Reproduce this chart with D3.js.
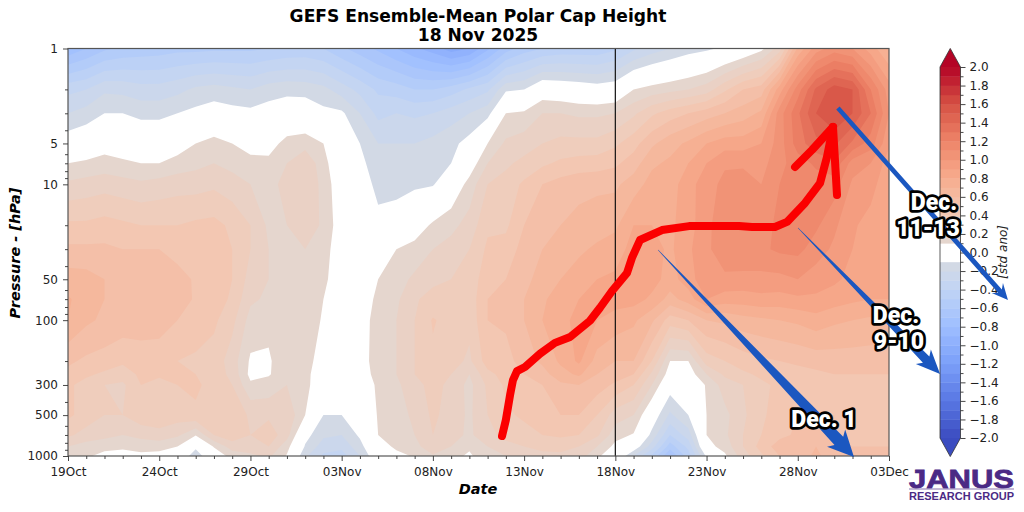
<!DOCTYPE html>
<html>
<head>
<meta charset="utf-8">
<script src="https://cdn.jsdelivr.net/npm/d3@7"></script>
<style>
  html, body { margin: 0; background: #fff; }
  text { font-family: "DejaVu Sans", sans-serif; }
</style>
</head>
<body>
<div id="chart"></div>
<script>
// values
const pressureLevels = [1, 2, 3, 5, 7, 10, 20, 30, 50, 70, 100, 200, 250, 300, 500, 700, 850, 1000];
const dayCount = 46;
const dateTicks = [0, 5, 10, 15, 20, 25, 30, 35, 40, 45];
const dateLabels = ['19Oct', '24Oct', '29Oct', '03Nov', '08Nov', '13Nov', '18Nov', '23Nov', '28Nov', '03Dec'];
const pressureTicks = [1, 5, 10, 50, 100, 300, 500, 1000];
const pressureMinor = [2, 3, 4, 6, 7, 8, 9, 20, 30, 40, 60, 70, 80, 90, 200, 400, 600, 700, 800, 900];
const barTicks = [2, 1.8, 1.6, 1.4, 1.2, 1, 0.8, 0.6, 0.4, 0.2, 0, -0.2, -0.4, -0.6, -0.8, -1, -1.2, -1.4, -1.6, -1.8, -2];
const forecastStart = 30;

// one list per day, top of the atmosphere first
const anomalyByDay = [
  [-.78, -.33, -.2, -.03, .1, .22, .42, .52, .65, .71, .7, .52, .47, .42, .42, .32, .2, .12],
  [-.7, -.3, -.16, 0, .12, .24, .42, .52, .64, .66, .62, .48, .42, .36, .36, .26, .16, .11],
  [-.62, -.22, -.1, .05, .14, .26, .44, .52, .6, .6, .58, .46, .38, .3, .3, .24, .12, .08],
  [-.58, -.23, -.1, .03, .12, .24, .42, .5, .58, .58, .56, .42, .35, .28, .3, .2, .12, .06],
  [-.56, -.26, -.13, .01, .1, .22, .4, .5, .57, .57, .56, .44, .42, .4, .36, .24, .13, .08],
  [-.55, -.26, -.13, .01, .1, .24, .4, .5, .55, .56, .55, .44, .41, .38, .36, .27, .13, .07],
  [-.53, -.23, -.1, .04, .14, .26, .4, .47, .53, .54, .5, .4, .4, .4, .35, .22, .1, .02],
  [-.53, -.18, -.07, .1, .17, .26, .42, .48, .49, .49, .47, .38, .4, .42, .38, .11, -.07, -.17],
  [-.52, -.16, -.04, .14, .2, .28, .43, .47, .47, .46, .42, .36, .36, .36, .36, .3, .11, .02],
  [-.52, -.18, -.06, .1, .17, .24, .38, .4, .4, .38, .33, .25, .27, .3, .38, .36, .25, .14],
  [-.52, -.2, -.07, .06, .13, .2, .3, .3, .26, .22, .16, .085, .07, .12, .28, .3, .25, .18],
  [-.5, -.15, -.05, .05, .13, .18, .18, .2, .2, .18, .12, .09, .09, .14, .28, .36, .3, .22],
  [-.48, -.13, -.03, .14, .2, .22, .2, .18, .17, .16, .17, .15, .17, .2, .28, .24, .14, .09],
  [-.47, -.14, -.02, .16, .28, .28, .3, .2, .18, .16, .15, .14, .13, .13, .1, -.06, -.11, -.18],
  [-.5, -.17, -.07, .1, .14, .17, .17, .15, .13, .1, .09, .05, .03, .02, -.1, -.18, -.25, -.32],
  [-.58, -.25, -.08, -.04, -.01, .01, .04, .02, .01, 0, 0, -.01, -.01, -.02, -.1, -.2, -.27, -.35],
  [-.65, -.33, -.2, -.1, -.07, -.04, 0, 0, 0, .02, .04, .05, .04, .02, -.03, -.08, -.14, -.2],
  [-.72, -.42, -.33, -.2, -.16, -.13, -.07, .06, .1, .13, .15, .15, .14, .12, .11, .1, .05, 0],
  [-.8, -.45, -.3, -.2, -.16, -.13, -.05, .1, .16, .18, .2, .2, .2, .18, .16, .15, .12, .07],
  [-.88, -.5, -.32, -.2, -.16, -.12, .03, .14, .22, .29, .3, .3, .3, .26, .22, .2, .15, .11],
  [-.95, -.5, -.3, -.17, -.14, -.11, .12, .2, .28, .33, .41, .38, .36, .34, .32, .3, .3, .18],
  [-1.05, -.45, -.25, -.13, -.1, 0, .17, .24, .3, .34, .36, .34, .3, .27, .26, .24, .2, .14],
  [-1, -.38, -.2, -.06, .03, .14, .24, .3, .33, .34, .33, .28, .2, .17, .18, .18, .12, .08],
  [-.82, -.32, -.14, .1, .2, .3, .38, .42, .47, .5, .5, .45, .37, .32, .3, .27, .2, .18],
  [-.65, -.12, .1, .22, .28, .34, .38, .44, .5, .52, .52, .46, .44, .42, .38, .33, .27, .2],
  [-.55, -.1, .12, .25, .33, .42, .5, .54, .57, .6, .6, .55, .5, .45, .42, .36, .3, .26],
  [-.5, .02, .2, .3, .38, .5, .56, .6, .64, .68, .7, .62, .56, .5, .46, .4, .32, .28],
  [-.47, 0, .2, .33, .42, .54, .6, .65, .7, .76, .78, .72, .66, .58, .5, .42, .33, .28],
  [-.47, -.02, .18, .33, .44, .57, .63, .68, .75, .8, .82, .82, .72, .6, .5, .4, .3, .25],
  [-.47, -.04, .18, .33, .45, .58, .65, .72, .8, .85, .8, .66, .6, .55, .4, .32, .2, .12],
  [-.42, -.02, .2, .38, .48, .58, .68, .75, .82, .84, .76, .6, .55, .48, .25, .14, .07, .02],
  [-.32, .1, .28, .46, .55, .65, .8, .84, .86, .84, .72, .6, .5, .4, .2, .09, -.02, -.2],
  [-.25, .14, .38, .58, .68, .74, .8, .84, .84, .78, .62, .4, .28, .2, -.02, -.13, -.25, -.42],
  [-.2, .17, .45, .66, .72, .76, .78, .78, .76, .66, .45, .1, .04, -.04, -.22, -.4, -.55, -.7],
  [-.15, .2, .5, .72, .8, .85, .85, .88, .85, .75, .5, .1, .04, 0, -.1, -.25, -.37, -.45],
  [-.12, .25, .55, .8, .9, .97, .98, .98, .98, .9, .6, .35, .2, .11, .1, .1, .06, -.08],
  [-.08, .38, .6, .85, .99, 1.02, 1.05, 1.06, .98, .85, .62, .4, .32, .25, .17, .18, .14, .08],
  [-.02, .5, .65, .85, .99, 1.03, 1.07, 1.08, .97, .85, .66, .45, .38, .3, .28, .3, .3, .25],
  [.07, .55, .72, .9, .96, 1, 1.05, 1.08, .97, .87, .68, .48, .42, .38, .38, .4, .44, .38],
  [.25, .85, 1.05, 1.05, 1.07, 1.1, 1.13, 1.12, .97, .86, .7, .5, .45, .42, .45, .47, .55, .5],
  [.72, 1.15, 1.28, 1.25, 1.15, 1.12, 1.15, 1.13, 1, .88, .72, .52, .46, .42, .5, .52, .58, .55],
  [.95, 1.42, 1.5, 1.37, 1.22, 1.15, 1.12, 1.05, .95, .88, .76, .54, .48, .44, .5, .55, .6, .62],
  [1.05, 1.55, 1.6, 1.42, 1.28, 1.15, 1.02, .98, .92, .85, .72, .55, .5, .46, .5, .5, .55, .55],
  [1, 1.5, 1.5, 1.28, 1.05, .98, .92, .9, .87, .82, .7, .55, .5, .46, .47, .45, .5, .5],
  [.85, 1.2, 1.3, 1.15, 1, .95, .85, .85, .85, .8, .68, .55, .5, .47, .45, .45, .5, .5],
  [.7, .95, 1, .92, .85, .8, .8, .82, .82, .8, .66, .55, .5, .47, .48, .48, .5, .5]
];

// the hand-drawn red track and its arrow head, in day / hPa
const trackDays = [23.79, 24.0, 24.23, 24.39, 24.61, 25.05, 25.87, 26.69, 27.52, 28.61, 29.16, 29.82, 30.64, 30.91, 31.35, 32.56, 34.04, 36.78, 37.49, 38.75, 39.41, 40.4, 41.22, 41.6, 41.93];
const trackHpa = [713, 543, 356, 276, 237, 221, 177, 147, 133, 101, 81, 61, 45, 34.8, 25.7, 21.7, 20.3, 20.3, 20.6, 20.6, 18.9, 13.7, 9.8, 6.3, 3.78];
const headLeftDays = [41.93, 40.78, 39.85];
const headLeftHpa = [3.78, 5.59, 7.45];
const headRightDays = [41.93, 42.15];
const headRightHpa = [3.78, 12.0];

// blue arrows: Dec. 1, Dec. 9-10, Dec. 11-13
const arrowNames = ['Dec. 1', 'Dec. 9-10', 'Dec. 11-13'];
const arrowTailDay = [32.34, 40.01, 42.2];
const arrowTailHpa = [30.4, 20.9, 2.74];
const arrowTipDay = [43.08, 47.8, 51.52];
const arrowTipHpa = [1016, 249, 71.1];

const coolwarm = ['#3b4cc0', '#5977e3', '#7b9ff9', '#9ebeff', '#c0d4f5', '#dddcdc', '#f2cbb7', '#f7ac8e', '#ee8468', '#d65244', '#b40426'];
const levels = d3.range(-20, 20).map(d => d / 10);

const chartWidth = 1024, chartHeight = 512;
const plotLeft = 68, plotRight = 889, plotTop = 48.5, plotBottom = 456;

const svg = d3.select('#chart').append('svg')
  .attr('width', chartWidth).attr('height', chartHeight)
  .attr('viewBox', [0, 0, chartWidth, chartHeight])
  .style('display', 'block');

const x = d3.scaleLinear().domain([0, 45]).range([plotLeft, plotRight]);
const y = d3.scaleLog().domain([1, 1000]).range([plotTop, plotBottom]);
// grid row number -> pixel, rows are not evenly spaced
const rowY = d3.scaleLinear().domain(d3.range(pressureLevels.length)).range(pressureLevels.map(y));
const ramp = d3.scaleLinear().domain(d3.range(coolwarm.length).map(d => d / 10)).range(coolwarm);

function bandColour(lo) {
  const key = Math.round(lo * 10);
  if (key === -1 || key === 0) return '#ffffff';
  return ramp((lo + 0.05 + 2) / 4);
}

svg.append('defs').append('clipPath').attr('id', 'plot')
  .append('rect').attr('x', plotLeft).attr('y', plotTop).attr('width', plotRight - plotLeft).attr('height', plotBottom - plotTop);

// Filled contours
const grid = [];
for (let j = 0; j < pressureLevels.length; j++) {
  for (let i = 0; i < dayCount; i++) grid.push(anomalyByDay[i][j]);
}
const contours = d3.contours().size([dayCount, pressureLevels.length]).thresholds(levels)(grid);
const toPixels = d3.geoTransform({
  point(cx, cy) { this.stream.point(x(cx - 0.5), rowY(cy - 0.5)); }
});
svg.append('g').attr('clip-path', 'url(#plot)')
  .selectAll('path').data(contours).enter().append('path')
  .attr('d', d3.geoPath(toPixels))
  .attr('fill', d => bandColour(d.value));

// 18 Nov marker
svg.append('line')
  .attr('x1', x(forecastStart)).attr('x2', x(forecastStart))
  .attr('y1', plotTop).attr('y2', plotBottom)
  .attr('stroke', '#111').attr('stroke-width', 1.2);

// Frame
svg.append('rect').attr('x', plotLeft).attr('y', plotTop).attr('width', plotRight - plotLeft).attr('height', plotBottom - plotTop)
  .attr('fill', 'none').attr('stroke', '#555').attr('stroke-width', 1.2);

// Axes
const xAxis = svg.append('g').attr('transform', `translate(0, ${plotBottom})`)
  .call(d3.axisBottom(x).tickValues(dateTicks).tickFormat((d, i) => dateLabels[i]).tickSize(5).tickPadding(6));
const xMinor = svg.append('g').attr('transform', `translate(0, ${plotBottom})`)
  .call(d3.axisBottom(x).tickValues(d3.range(dayCount).filter(d => d % 5)).tickFormat('').tickSize(3));
const yAxis = svg.append('g').attr('transform', `translate(${plotLeft}, 0)`)
  .call(d3.axisLeft(y).tickValues(pressureTicks).tickFormat(d3.format('d')).tickSize(5).tickPadding(5));
const yMinor = svg.append('g').attr('transform', `translate(${plotLeft}, 0)`)
  .call(d3.axisLeft(y).tickValues(pressureMinor).tickFormat('').tickSize(3));
[xAxis, xMinor, yAxis, yMinor].forEach(a => {
  a.select('.domain').remove();
  a.selectAll('line').attr('stroke', '#333').attr('stroke-width', 0.9);
  a.selectAll('text').attr('font-size', 12).attr('fill', '#222').attr('font-family', '"DejaVu Sans", sans-serif');
});

// Titles
svg.append('text').attr('x', 478).attr('y', 22).attr('text-anchor', 'middle')
  .attr('font-size', 17.1).attr('font-weight', 'bold').text('GEFS Ensemble-Mean Polar Cap Height');
svg.append('text').attr('x', 478).attr('y', 41).attr('text-anchor', 'middle')
  .attr('font-size', 17.1).attr('font-weight', 'bold').text('18 Nov 2025');
svg.append('text').attr('x', 478).attr('y', 494).attr('text-anchor', 'middle')
  .attr('font-size', 14.5).attr('font-weight', 'bold').attr('font-style', 'italic').text('Date');
svg.append('text').attr('transform', 'translate(20, 253) rotate(-90)').attr('text-anchor', 'middle')
  .attr('font-size', 14.5).attr('font-weight', 'bold').attr('font-style', 'italic').text('Pressure - [hPa]');

// Colour bar
const barLeft = 940, barRight = 960.5;
const bar = d3.scaleLinear().domain([2, -2]).range([67, 438]);
svg.append('g').selectAll('rect').data(levels).enter().append('rect')
  .attr('x', barLeft).attr('width', barRight - barLeft)
  .attr('y', d => bar(d + 0.1)).attr('height', d => bar(d) - bar(d + 0.1) + 0.4)
  .attr('fill', bandColour);
const barMid = (barLeft + barRight) / 2;
svg.append('path').attr('fill', coolwarm[10])
  .attr('d', d3.line()([[barLeft, bar(2)], [barMid, bar(2.2)], [barRight, bar(2)]]) + 'Z');
svg.append('path').attr('fill', coolwarm[0])
  .attr('d', d3.line()([[barLeft, bar(-2)], [barMid, bar(-2.2)], [barRight, bar(-2)]]) + 'Z');
svg.append('path').attr('fill', 'none').attr('stroke', '#333').attr('stroke-width', 0.8)
  .attr('d', d3.line()([[barLeft, bar(2)], [barMid, bar(2.2)], [barRight, bar(2)], [barRight, bar(-2)],
    [barMid, bar(-2.2)], [barLeft, bar(-2)]]) + 'Z');
const barAxis = svg.append('g').attr('transform', `translate(${barRight}, 0)`)
  .call(d3.axisRight(bar).tickValues(barTicks).tickFormat(d3.format('.1f')).tickSize(5).tickPadding(4));
const barMinor = svg.append('g').attr('transform', `translate(${barRight}, 0)`)
  .call(d3.axisRight(bar).tickValues(d3.range(-19, 20, 2).map(d => d / 10)).tickFormat('').tickSize(3));
[barAxis, barMinor].forEach(a => {
  a.select('.domain').remove();
  a.selectAll('line').attr('stroke', '#333').attr('stroke-width', 0.9);
  a.selectAll('text').attr('font-size', 12).attr('fill', '#222').attr('font-family', '"DejaVu Sans", sans-serif');
});
svg.append('text').attr('transform', 'translate(1007, 252) rotate(-90)').attr('text-anchor', 'middle')
  .attr('font-size', 12).attr('font-style', 'italic').attr('fill', '#222').text('[std ano]');

// Blue arrows, tapered from the tail
const arrowTailWidth = [0.5, 0.5, 4.5];
const arrowEndWidth = [12, 9, 5];
const arrowHeadWidth = [25, 21, 15];
const arrowHeadLength = [22, 20, 12];
const arrowPoints = (i) => {
  const x0 = x(arrowTailDay[i]), y0 = y(arrowTailHpa[i]);
  const x1 = x(arrowTipDay[i]), y1 = y(arrowTipHpa[i]);
  const len = Math.hypot(x1 - x0, y1 - y0);
  const ux = (x1 - x0) / len, uy = (y1 - y0) / len;
  const at = (along, side) => [x0 + ux * along - uy * side, y0 + uy * along + ux * side];
  const neck = len - arrowHeadLength[i];
  return [
    at(0, arrowTailWidth[i] / 2), at(neck, arrowEndWidth[i] / 2), at(neck - 4, arrowHeadWidth[i] / 2), at(len, 0),
    at(neck - 4, -arrowHeadWidth[i] / 2), at(neck, -arrowEndWidth[i] / 2), at(0, -arrowTailWidth[i] / 2)
  ];
};
svg.append('g').selectAll('path').data(arrowNames).enter().append('path')
  .attr('d', (d, i) => d3.line()(arrowPoints(i)) + 'Z')
  .attr('fill', '#1b57c0');

// Red track
const trackLine = d3.line().x(d => x(d[0])).y(d => y(d[1]));
[[trackDays, trackHpa], [headLeftDays, headLeftHpa], [headRightDays, headRightHpa]].forEach(([days, hpa]) => {
  svg.append('path').attr('d', trackLine(d3.zip(days, hpa)))
    .attr('fill', 'none').attr('stroke', '#fb0000').attr('stroke-width', 8)
    .attr('stroke-linejoin', 'round').attr('stroke-linecap', 'round');
});

// Arrow captions
const captions = [['Dec. 1', 824, 427], ['Dec.', 934, 210], ['11-13', 928, 236], ['Dec.', 896, 323], ['9-10', 899, 349]];
svg.append('g').selectAll('text').data(captions).enter().append('text')
  .attr('x', d => d[1]).attr('y', d => d[2]).attr('text-anchor', 'middle')
  .attr('font-weight', 900).attr('font-size', 23)
  .attr('fill', '#fff').attr('stroke', '#000').attr('stroke-width', 5.5)
  .attr('stroke-linejoin', 'round').attr('paint-order', 'stroke')
  .style('font-family', 'Roboto').text(d => d[0]);

// Logo
svg.append('text').attr('x', 909).attr('y', 487.5).attr('textLength', 105).attr('lengthAdjust', 'spacingAndGlyphs')
  .style('font-family', '"Liberation Sans"').attr('font-weight', 'bold').attr('font-size', 26.5)
  .attr('fill', '#4b2a85').attr('stroke', '#4b2a85').attr('stroke-width', 0.8).text('JANUS');
svg.append('rect').attr('x', 909).attr('y', 488.5).attr('width', 105).attr('height', 1).attr('fill', '#8a75b0');
svg.append('text').attr('x', 909).attr('y', 499.5).attr('textLength', 105).attr('lengthAdjust', 'spacingAndGlyphs')
  .style('font-family', '"Liberation Sans"').attr('font-weight', 'bold').attr('font-size', 11.5)
  .attr('fill', '#4b2a85').text('RESEARCH GROUP');
</script>
</body>
</html>
